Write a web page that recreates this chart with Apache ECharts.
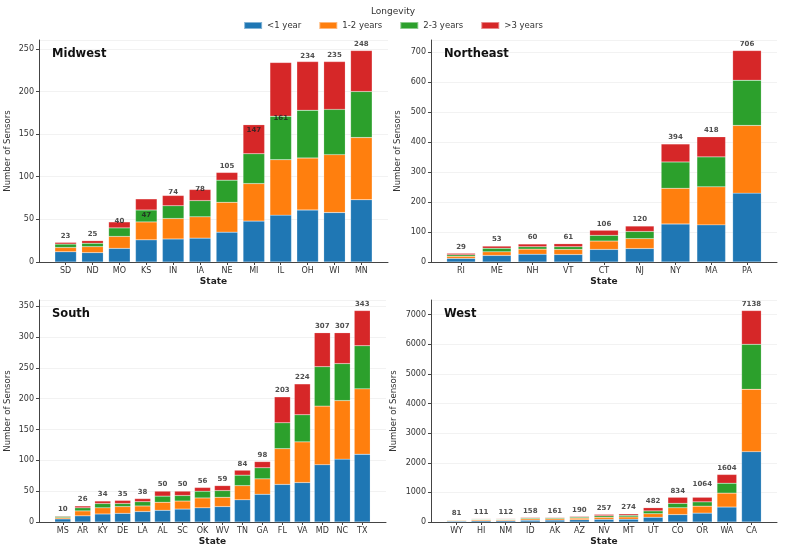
<!DOCTYPE html>
<html>
<head>
<meta charset="utf-8">
<script src="https://cdn.jsdelivr.net/npm/echarts@6/dist/echarts.min.js"></script>
<style>
  html, body { margin: 0; padding: 0; background: #fff; }
  #chart { width: 786px; height: 551px; }
</style>
</head>
<body>
<div id="chart"></div>
<script>
// longevity classes
var classes = ['<1 year', '1-2 years', '2-3 years', '>3 years'];
var colors = ['#1f77b4', '#ff7f0e', '#2ca02c', '#d62728'];

// Midwest
var midwestStates = ['SD', 'ND', 'MO', 'KS', 'IN', 'IA', 'NE', 'MI', 'IL', 'OH', 'WI', 'MN'];
var midwestLt1 = [12, 11, 16, 26, 27, 28, 35, 48, 55, 61, 58, 73];
var midwest1to2 = [5, 7, 14, 21, 24, 25, 35, 44, 65, 61, 68, 73];
var midwest2to3 = [4, 4, 10, 14, 15, 19, 26, 35, 51, 56, 53, 54];
var midwestGt3 = [2, 3, 7, 13, 12, 13, 9, 34, 63, 57, 56, 48];
var midwestLabels = [23, 25, 40, 47, 74, 78, 105, 147, 161, 234, 235, 248];

// Northeast
var northeastStates = ['RI', 'ME', 'NH', 'VT', 'CT', 'NJ', 'NY', 'MA', 'PA'];
var northeastLt1 = [12, 22, 26, 25, 42, 45, 127, 124, 230];
var northeast1to2 = [7, 12, 17, 17, 28, 33, 119, 127, 226];
var northeast2to3 = [5, 12, 8, 9, 19, 24, 88, 100, 151];
var northeastGt3 = [5, 7, 9, 10, 17, 18, 60, 67, 99];
var northeastLabels = [29, 53, 60, 61, 106, 120, 394, 418, 706];

// South
var southStates = ['MS', 'AR', 'KY', 'DE', 'LA', 'AL', 'SC', 'OK', 'WV', 'TN', 'GA', 'FL', 'VA', 'MD', 'NC', 'TX'];
var southLt1 = [5, 10, 13, 14, 17, 19, 21, 23, 25, 36, 45, 61, 64, 93, 102, 110];
var south1to2 = [2, 8, 10, 11, 9, 13, 13, 16, 15, 23, 25, 58, 66, 95, 95, 106];
var south2to3 = [2, 5, 7, 5, 7, 10, 9, 11, 11, 17, 18, 42, 44, 64, 60, 70];
var southGt3 = [1, 3, 4, 5, 5, 8, 7, 6, 8, 8, 10, 42, 50, 55, 50, 57];
var southLabels = [10, 26, 34, 35, 38, 50, 50, 56, 59, 84, 98, 203, 224, 307, 307, 343];

// West
var westStates = ['WY', 'HI', 'NM', 'ID', 'AK', 'AZ', 'NV', 'MT', 'UT', 'CO', 'OR', 'WA', 'CA'];
var westLt1 = [30, 40, 45, 60, 65, 75, 90, 95, 160, 250, 300, 505, 2375];
var west1to2 = [25, 35, 30, 45, 45, 55, 70, 75, 120, 230, 235, 470, 2105];
var west2to3 = [15, 20, 20, 30, 30, 35, 50, 55, 95, 150, 145, 335, 1520];
var westGt3 = [11, 16, 17, 23, 21, 25, 47, 49, 107, 204, 154, 294, 1138];
var westLabels = [81, 111, 112, 158, 161, 190, 257, 274, 482, 834, 1064, 1604, 7138];

var panels = [
  {title: 'Midwest', states: midwestStates, values: [midwestLt1, midwest1to2, midwest2to3, midwestGt3], labels: midwestLabels,
   step: 50, left: 39, right: 388, top: 40, bottom: 262, nameGap: 27},
  {title: 'Northeast', states: northeastStates, values: [northeastLt1, northeast1to2, northeast2to3, northeastGt3], labels: northeastLabels,
   step: 100, left: 431, right: 777, top: 40, bottom: 262, nameGap: 29},
  {title: 'South', states: southStates, values: [southLt1, south1to2, south2to3, southGt3], labels: southLabels,
   step: 50, left: 39, right: 386, top: 300, bottom: 522, nameGap: 27},
  {title: 'West', states: westStates, values: [westLt1, west1to2, west2to3, westGt3], labels: westLabels,
   step: 1000, left: 431, right: 777, top: 300, bottom: 522, nameGap: 33}
];

var font = 'DejaVu Sans';
var axisColor = '#444';
var grids = [], xAxes = [], yAxes = [], series = [], titles = [];

titles.push({text: 'Longevity', left: 'center', top: 2,
  textStyle: {fontFamily: font, fontSize: 9, fontWeight: 'normal', color: '#333'}});

panels.forEach(function (p, k) {
  var n = p.states.length;
  // matplotlib-like x margins: bars span -0.4..n-0.6, plus 5% padding
  var pad = 0.05 * (n - 0.2);
  var xmin = -0.4 - pad, xmax = n - 0.6 + pad;
  var slot = (p.right - p.left) / (xmax - xmin);
  var innerLeft = p.left + (-0.5 - xmin) * slot;

  var totals = p.states.map(function (s, i) {
    return p.values.reduce(function (a, arr) { return a + arr[i]; }, 0);
  });
  var ymax = Math.max.apply(null, totals) * 1.05;
  var outer = 2 * k, inner = 2 * k + 1;

  // outer grid: spines, y ticks, grid lines
  grids.push({left: p.left, top: p.top, width: p.right - p.left, height: p.bottom - p.top});
  // inner grid: category slots for the bars
  grids.push({left: innerLeft, top: p.top, width: n * slot, height: p.bottom - p.top});

  titles.push({text: p.title, left: p.left + 8, top: p.top + 3,
    textStyle: {fontFamily: font, fontSize: 11.5, fontWeight: 'bold', color: '#111'}});

  xAxes.push({
    type: 'value', gridIndex: outer, min: xmin, max: xmax,
    name: 'State', nameLocation: 'middle', nameGap: 15,
    nameTextStyle: {fontFamily: font, fontSize: 9, fontWeight: 'bold', color: '#222'},
    axisLine: {show: true, onZero: false, lineStyle: {color: axisColor, width: 1}},
    axisTick: {show: false}, axisLabel: {show: false}, splitLine: {show: false}
  });
  xAxes.push({
    type: 'category', gridIndex: inner, data: p.states,
    axisLine: {show: false},
    axisTick: {show: true, alignWithLabel: true, length: 3, lineStyle: {color: axisColor}},
    axisLabel: {margin: 5, fontFamily: font, fontSize: 8, color: '#333', interval: 0},
    splitLine: {show: false}
  });
  yAxes.push({
    type: 'value', gridIndex: outer, min: 0, max: ymax, interval: p.step,
    name: 'Number of Sensors', nameLocation: 'middle', nameGap: p.nameGap,
    nameTextStyle: {fontFamily: font, fontSize: 8.5, color: '#333'},
    axisLine: {show: true, onZero: false, lineStyle: {color: axisColor, width: 1}},
    axisTick: {show: true, length: 3, lineStyle: {color: axisColor}},
    axisLabel: {margin: 5, fontFamily: font, fontSize: 8, color: '#333', showMaxLabel: false,
      formatter: function (v) { return String(v); }},
    splitLine: {show: true, lineStyle: {color: '#efefef', width: 0.8}}
  });
  yAxes.push({
    type: 'value', gridIndex: inner, min: 0, max: ymax, show: false
  });

  classes.forEach(function (c, j) {
    series.push({
      name: c, type: 'bar', stack: 'p' + k, xAxisIndex: inner, yAxisIndex: inner,
      barWidth: '80%',
      itemStyle: {color: colors[j], borderColor: 'rgba(255,255,255,0.45)', borderWidth: 0.4},
      data: p.values[j]
    });
  });

  series.push({
    name: 'totals' + k, type: 'scatter', xAxisIndex: inner, yAxisIndex: inner,
    symbolSize: 0, silent: true, z: 10,
    label: {show: true, position: 'top', distance: 3, fontFamily: font, fontSize: 7,
      fontWeight: 'bold', color: '#222'},
    data: p.labels
  });
});

var chart = echarts.init(document.getElementById('chart'));
chart.setOption({
  animation: false,
  color: colors,
  title: titles,
  legend: {
    data: classes, top: 16, left: 'center', icon: 'rect',
    itemWidth: 18, itemHeight: 7, itemGap: 17,
    textStyle: {fontFamily: font, fontSize: 8.5, color: '#333'}
  },
  grid: grids,
  xAxis: xAxes,
  yAxis: yAxes,
  series: series
});
</script>
</body>
</html>
